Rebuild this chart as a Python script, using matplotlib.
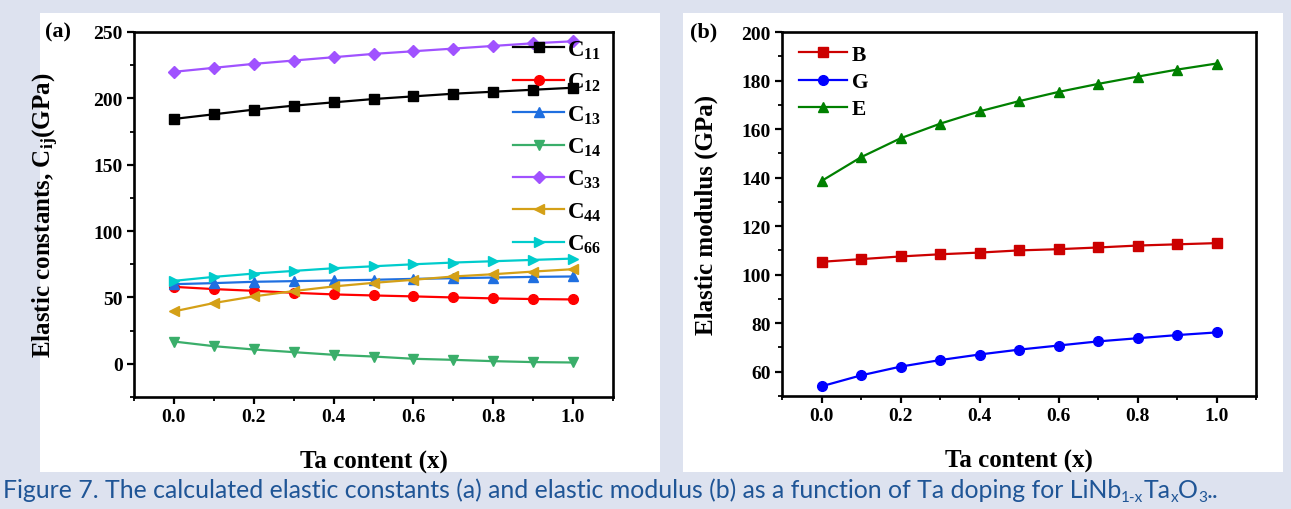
import matplotlib
matplotlib.use("Agg")
import matplotlib.pyplot as plt
from matplotlib.patches import Rectangle
from matplotlib.ticker import MultipleLocator

plt.rcParams['font.family'] = ['Liberation Serif', 'DejaVu Serif']
plt.rcParams['font.weight'] = 'bold'
plt.rcParams['mathtext.fontset'] = 'custom'
plt.rcParams['mathtext.rm'] = 'Liberation Serif:bold'
plt.rcParams['mathtext.it'] = 'Liberation Serif:bold'
plt.rcParams['mathtext.bf'] = 'Liberation Serif:bold'

# ---------------- data ----------------
ta_content = [0.0, 0.1, 0.2, 0.3, 0.4, 0.5, 0.6, 0.7, 0.8, 0.9, 1.0]

c11 = [184.5, 188.0, 191.5, 194.5, 197.0, 199.5, 201.5, 203.5, 205.0, 206.5, 208.0]
c12 = [58.0, 56.3, 55.0, 53.5, 52.3, 51.5, 50.8, 50.0, 49.3, 48.8, 48.5]
c13 = [60.0, 60.8, 61.8, 62.3, 62.8, 63.3, 64.0, 64.5, 65.0, 65.5, 65.8]
c14 = [16.8, 13.3, 10.8, 8.8, 6.8, 5.5, 3.8, 3.0, 2.0, 1.3, 1.0]
c33 = [220.0, 223.0, 226.0, 228.5, 231.0, 233.5, 235.5, 237.5, 239.5, 241.5, 243.0]
c44 = [39.5, 45.8, 50.8, 54.8, 58.3, 61.0, 63.3, 65.8, 67.5, 69.5, 71.3]
c66 = [62.5, 65.5, 68.0, 70.0, 72.0, 73.5, 75.0, 76.3, 77.3, 78.3, 79.3]

cij_labels = [r'C$_{11}$', r'C$_{12}$', r'C$_{13}$', r'C$_{14}$', r'C$_{33}$', r'C$_{44}$', r'C$_{66}$']

bulk = [105.3, 106.4, 107.5, 108.4, 109.1, 110.0, 110.5, 111.2, 112.0, 112.5, 113.0]
shear = [54.0, 58.5, 62.1, 64.8, 67.1, 69.1, 70.8, 72.5, 73.8, 75.1, 76.2]
young = [138.6, 148.4, 156.2, 162.2, 167.3, 171.5, 175.3, 178.6, 181.6, 184.5, 187.0]
mod_labels = ['B', 'G', 'E']

x_ticks = [0.0, 0.2, 0.4, 0.6, 0.8, 1.0]
ya_ticks = [0, 50, 100, 150, 200, 250]
yb_ticks = [60, 80, 100, 120, 140, 160, 180, 200]

# ---------------- figure ----------------
W, H = 1291, 510
fig = plt.figure(figsize=(W / 100, H / 100), dpi=100)
fig.patch.set_facecolor('#dde2ef')

def px_rect(x0, y0, x1, y1):
    return [x0 / W, 1 - y1 / H, (x1 - x0) / W, (y1 - y0) / H]

# white panels
for (x0, y0, x1, y1) in [(40, 14, 660, 473), (683, 14, 1283, 473)]:
    l, b, w, h = px_rect(x0, y0, x1, y1)
    fig.patches.append(Rectangle((l, b), w, h, transform=fig.transFigure,
                                 facecolor='white', edgecolor='none', zorder=-5))

axa = fig.add_axes(px_rect(134, 33, 613, 398))
axb = fig.add_axes(px_rect(782, 33, 1256, 397))
for ax in (axa, axb):
    ax.set_zorder(1)

def style(ax):
    for s in ax.spines.values():
        s.set_linewidth(1.9)
    ax.tick_params(which='major', direction='out', length=5, width=1.6,
                   labelsize=14, pad=3)
    ax.tick_params(which='minor', direction='out', length=3, width=1.3)
    ax.tick_params(top=False, right=False, which='both')
    ax.set_xlim(-0.1, 1.1)
    ax.set_xticks(x_ticks)
    ax.xaxis.set_minor_locator(MultipleLocator(0.1))
    ax.set_xticklabels([f'{t:.1f}' for t in x_ticks])
    ax.set_xlabel('Ta content (x)', fontsize=18, fontweight='bold')
    ax.xaxis.set_label_coords(0.5, -0.145)

style(axa)
style(axb)

# panel (a)
series_a = [c11, c12, c13, c14, c33, c44, c66]
colors_a = ['#000000', '#ff0000', '#1f6fe0', '#3aae6a', '#a052ff', '#d4a017', '#00cccc']
markers_a = ['s', 'o', '^', 'v', 'D', '<', '>']
msizes_a = [7, 7, 7, 7, 6.5, 7, 7]
for vals, c, m, ms, lab in zip(series_a, colors_a, markers_a, msizes_a, cij_labels):
    axa.plot(ta_content, vals, color=c, marker=m, markersize=ms, linewidth=1.6, label=lab)
axa.set_ylim(-25, 250)
axa.set_yticks(ya_ticks)
axa.yaxis.set_minor_locator(MultipleLocator(25))
axa.set_ylabel(r'Elastic constants, C$_{ij}$(GPa)', fontsize=18, fontweight='bold')
axa.yaxis.set_label_coords(-0.153, 0.5)
leg = axa.legend(loc='upper right', bbox_to_anchor=(1.005, 1.02), frameon=False,
                 fontsize=16.5, handlelength=2.2, handletextpad=0.15,
                 labelspacing=0.44, borderaxespad=0.2)

# panel (b)
series_b = [bulk, shear, young]
colors_b = ['#cc0000', '#0000ff', '#008000']
markers_b = ['s', 'o', '^']
for vals, c, m, lab in zip(series_b, colors_b, markers_b, mod_labels):
    axb.plot(ta_content, vals, color=c, marker=m, markersize=7, linewidth=1.6, label=lab)
axb.set_ylim(50, 200)
axb.set_yticks(yb_ticks)
axb.yaxis.set_minor_locator(MultipleLocator(10))
axb.set_ylabel('Elastic modulus (GPa)', fontsize=18, fontweight='bold')
axb.yaxis.set_label_coords(-0.135, 0.5)
axb.legend(loc='upper left', bbox_to_anchor=(0.0, 1.012), frameon=False,
           fontsize=15.5, handlelength=2.2, handletextpad=0.25,
           labelspacing=0.33, borderaxespad=0.4)

# panel labels
fig.text(45 / W, 1 - 32 / H, '(a)', fontsize=16, fontweight='bold', va='center', ha='left')
fig.text(690 / W, 1 - 32 / H, '(b)', fontsize=16, fontweight='bold', va='center', ha='left')

# caption with subscripts, placed segment by segment
cap_color = '#1f5596'
cap_font = 'Lato'
cap_size = 17.9
segments = [
    ('Figure 7. The calculated elastic constants (a) and elastic modulus (b) as a function of Ta doping for LiNb', False),
    ('1-x', True), ('Ta', False), ('x', True), ('O', False), ('3', True), ('..', False)]
fig.canvas.draw()
renderer = fig.canvas.get_renderer()
x = 3
base_y = 1 - 498 / H
for txt, sub in segments:
    size = cap_size * 0.62 if sub else cap_size
    yy = base_y - (4 / H if sub else 0)
    t = fig.text(x / W, yy, txt, fontsize=size, color=cap_color, family=cap_font,
                 fontweight='normal', ha='left', va='baseline')
    bb = t.get_window_extent(renderer=renderer)
    x += bb.width

fig.savefig('out.png', dpi=100, facecolor=fig.get_facecolor())
